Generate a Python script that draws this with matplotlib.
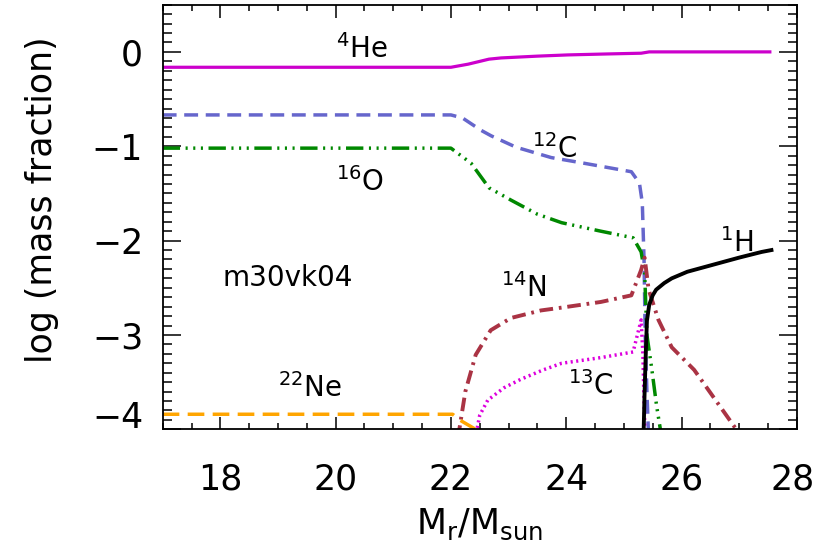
import matplotlib
matplotlib.use('agg')
from matplotlib import pyplot as plt
from matplotlib.ticker import MultipleLocator, FixedLocator
import matplotlib.transforms as mtransforms

# abundance profiles, log mass fraction vs Mr/Msun
he4_x = [17.0, 22.0, 22.3, 22.66, 22.87, 23.5, 24.03, 24.7, 25.3, 25.44, 26.5, 27.56]
he4_y = [-0.163, -0.163, -0.13, -0.077, -0.064, -0.045, -0.032, -0.022, -0.014, 0.0, 0.0, 0.0]

c12_x = [17.0, 22.0, 22.2, 22.52, 22.70, 23.13, 23.74, 24.31, 25.13, 25.27, 25.32, 25.35, 25.37, 25.40, 25.43]
c12_y = [-0.668, -0.668, -0.70, -0.83, -0.89, -1.01, -1.12, -1.18, -1.27, -1.39, -1.6, -2.2, -3.0, -3.6, -4.1]

o16_x = [17.0, 22.0, 22.35, 22.66, 23.04, 23.5, 23.92, 24.6, 25.16, 25.30, 25.36, 25.40, 25.48, 25.57, 25.66]
o16_y = [-1.02, -1.02, -1.18, -1.44, -1.57, -1.72, -1.81, -1.90, -1.97, -2.12, -2.34, -3.0, -3.34, -3.76, -4.1]

n14_x = [22.12, 22.25, 22.43, 22.69, 23.04, 23.56, 23.92, 24.6, 25.13, 25.30, 25.36, 25.43, 25.60, 25.83, 26.22, 26.95]
n14_y = [-4.1, -3.6, -3.21, -2.95, -2.82, -2.74, -2.71, -2.65, -2.58, -2.31, -2.18, -2.52, -2.84, -3.13, -3.37, -4.0]

c13_x = [22.42, 22.5, 22.64, 22.92, 23.21, 23.6, 23.92, 24.6, 25.16, 25.30, 25.33, 25.35, 25.37]
c13_y = [-4.1, -3.85, -3.69, -3.56, -3.47, -3.37, -3.30, -3.24, -3.18, -2.84, -3.2, -3.7, -4.1]

ne22_x = [17.0, 22.03, 22.15, 22.43, 22.48]
ne22_y = [-3.84, -3.84, -3.9, -4.0, -4.05]

h1_x = [25.34, 25.36, 25.38, 25.40, 25.44, 25.50, 25.56, 25.70, 25.83, 26.1, 26.52, 27.0, 27.39, 27.56]
h1_y = [-4.1, -3.6, -3.2, -2.85, -2.68, -2.58, -2.52, -2.45, -2.40, -2.33, -2.26, -2.18, -2.12, -2.10]

ytick_vals = [0, -1, -2, -3, -4]
ytick_text = ['0', '\u22121', '\u22122', '\u22123', '\u22124']
xtick_vals = [18, 20, 22, 24, 26, 28]

# (label, x, y) for the species names
labels = [(r'$^{4}$He', 20.0, 0.03),
          (r'$^{12}$C', 23.4, -1.03),
          (r'$^{16}$O', 20.0, -1.38),
          ('m30vk04', 18.03, -2.4),
          (r'$^{14}$N', 22.87, -2.5),
          (r'$^{1}$H', 26.66, -2.03),
          (r'$^{22}$Ne', 19.0, -3.56),
          (r'$^{13}$C', 24.03, -3.54)]

plt.rcParams['font.family'] = ['DejaVu Sans']
plt.rcParams['mathtext.fontset'] = 'dejavusans'
fs = 25
fs_lab = 20

fig = plt.figure(figsize=(8.3, 5.54), dpi=100)
ax = fig.add_axes([0.196, 0.225, 0.764, 0.7665])

ax.plot(he4_x, he4_y, color='#CC00CC', lw=2.3, solid_capstyle='butt')
ax.plot(c12_x, c12_y, color='#6666CC', lw=2.5, dashes=(4.0, 2.2))
ax.plot(o16_x, o16_y, color='#008800', lw=2.5, dashes=(5.0, 1.6, 0.6, 1.6, 0.6, 1.6, 0.6, 1.6))
ax.plot(n14_x, n14_y, color='#AA3344', lw=2.8, dashes=(3.5, 1.5, 0.7, 1.5))
ax.plot(c13_x, c13_y, color='#DD00DD', lw=2.5, dashes=(0.6, 1.0))
ax.plot(ne22_x, ne22_y, color='#FFA500', lw=2.5, dashes=(4.8, 2.4))
ax.plot(h1_x, h1_y, color='black', lw=2.8)

ax.set_xlim(17, 28)
ax.set_ylim(-4, 0.5)

ax.xaxis.set_major_locator(FixedLocator(xtick_vals))
ax.xaxis.set_minor_locator(MultipleLocator(0.5))
ax.yaxis.set_major_locator(FixedLocator(ytick_vals))
ax.set_yticklabels(ytick_text)
ax.yaxis.set_minor_locator(MultipleLocator(0.1))

ax.tick_params(which='both', direction='in', top=True, right=True, width=1.1, colors='black')
ax.tick_params(axis='x', which='major', length=9, pad=24, labelsize=fs)
ax.tick_params(axis='x', which='minor', length=4.5)
ax.tick_params(axis='y', which='major', length=13, pad=14, labelsize=fs)
ax.tick_params(axis='y', which='minor', length=6.5)
for sp in ax.spines.values():
    sp.set_linewidth(1.3)

# IDL nudges the end labels inward a bit
for lab in ax.get_yticklabels():
    if lab.get_text() == '\u22124':
        lab.set_transform(lab.get_transform() + mtransforms.ScaledTranslation(0, 11 / 72, fig.dpi_scale_trans))
for lab in ax.get_xticklabels():
    if lab.get_text() == '28':
        lab.set_transform(lab.get_transform() + mtransforms.ScaledTranslation(-3 / 72, 0, fig.dpi_scale_trans))

ax.set_xlabel(r'M$_{\rm r}$/M$_{\rm sun}$', fontsize=fs, labelpad=7)
ax.set_ylabel('log (mass fraction)', fontsize=fs)
ax.yaxis.set_label_coords(-0.163, 0.54)

for txt, x, y in labels:
    ax.text(x, y, txt, fontsize=fs_lab, ha='left', va='center')

fig.savefig('out.png', dpi=100)
